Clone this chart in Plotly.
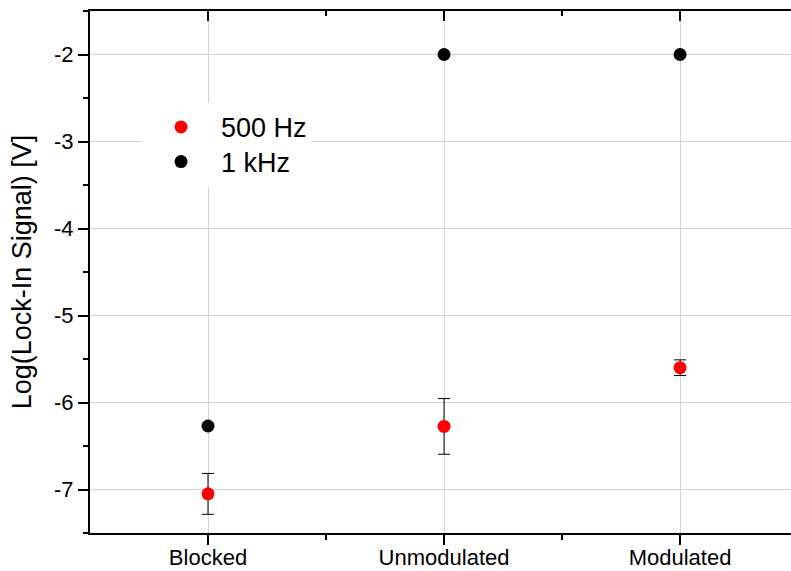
import plotly.graph_objects as go

categories = ["Blocked", "Unmodulated", "Modulated"]
series_names = ["500 Hz", "1 kHz"]
vals_500hz = [-7.05, -6.275, -5.6]
err_500hz = [0.235, 0.32, 0.09]
vals_1khz = [-6.27, -2.0, -2.0]
err_1khz = [0.0, 0.0, 0.0]
y_tick_vals = [-2, -3, -4, -5, -6, -7]
y_tick_text = ["-2", "-3", "-4", "-5", "-6", "-7"]

x_pos = list(range(len(categories)))
FONT = "Liberation Sans, Arial, sans-serif"

fig = go.Figure()
fig.add_trace(go.Scatter(
    x=x_pos, y=vals_500hz, mode="markers", name=series_names[0], legend="legend",
    marker=dict(color="#ff0000", size=13),
    error_y=dict(type="data", array=err_500hz, visible=True, color="#000000", thickness=1, width=6),
))
fig.add_trace(go.Scatter(
    x=x_pos, y=vals_1khz, mode="markers", name=series_names[1], legend="legend2",
    marker=dict(color="#000000", size=13),
    error_y=dict(type="data", array=err_1khz, visible=True, color="#000000", thickness=1, width=6),
))
# invisible trace so the mirrored (top/right) axes get drawn
fig.add_trace(go.Scatter(x=[None], y=[None], xaxis="x2", yaxis="y2", mode="markers",
                         showlegend=False, hoverinfo="skip"))

xr = [-0.5, 2.47]
yr = [-7.5, -1.5]
leg_common = dict(xanchor="left", yanchor="middle", bgcolor="white", borderwidth=0,
                  font=dict(size=27), itemwidth=70)
fig.update_layout(
    width=791, height=571,
    margin=dict(l=90, r=0, t=11, b=38, autoexpand=False),
    paper_bgcolor="white", plot_bgcolor="white",
    font=dict(family=FONT, size=22, color="black"),
    showlegend=True,
    legend=dict(x=0.0728, y=0.777, **leg_common),
    legend2=dict(x=0.0728, y=0.7106, **leg_common),
    xaxis=dict(range=xr, tickmode="array", tickvals=x_pos, ticktext=categories,
               automargin=False, ticklabelstandoff=-6,
               showgrid=True, gridcolor="#d4d4d4", gridwidth=1, zeroline=False,
               showline=True, linecolor="black", linewidth=2,
               ticks="outside", ticklen=10, tickwidth=2, tickcolor="black",
               minor=dict(tickmode="array", tickvals=[0.5, 1.5], ticks="outside",
                          ticklen=5, tickwidth=2, tickcolor="black", showgrid=False),
               tickfont=dict(size=22)),
    yaxis=dict(range=yr, tickmode="array", tickvals=y_tick_vals, ticktext=y_tick_text,
               automargin=False,
               showgrid=True, gridcolor="#d4d4d4", gridwidth=1, zeroline=False,
               showline=True, linecolor="black", linewidth=2,
               ticks="outside", ticklen=10, tickwidth=2, tickcolor="black",
               minor=dict(tickmode="array", tickvals=[-2.5, -3.5, -4.5, -5.5, -6.5, -7.5, -1.5],
                          ticks="outside", ticklen=5, tickwidth=2, tickcolor="black", showgrid=False),
               tickfont=dict(size=22),
               title=dict(text="Log(Lock-In Signal) [V]", font=dict(size=27), standoff=15)),
    xaxis2=dict(overlaying="x", side="top", anchor="y2", range=xr, tickmode="array", tickvals=x_pos,
                automargin=False,
                showticklabels=False, showgrid=False, zeroline=False,
                showline=True, linecolor="black", linewidth=2,
                ticks="inside", ticklen=10, tickwidth=2, tickcolor="black",
                minor=dict(tickmode="array", tickvals=[0.5, 1.5], ticks="inside",
                           ticklen=5, tickwidth=2, tickcolor="black")),
    yaxis2=dict(overlaying="y", side="right", anchor="x2", range=yr, tickmode="array",
                automargin=False,
                tickvals=y_tick_vals, showticklabels=False, showgrid=False, zeroline=False,
                showline=False, ticks="outside", ticklen=2, tickwidth=2, tickcolor="black"),
)

fig.write_html(
    "out.html",
    config={"displayModeBar": False},
    post_script="document.body.style.margin='0';document.body.style.overflow='hidden';",
)
